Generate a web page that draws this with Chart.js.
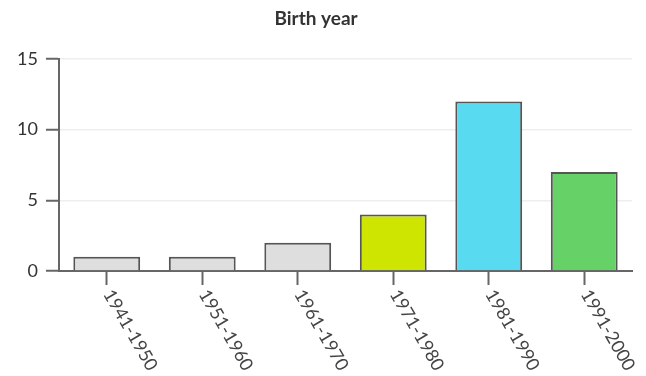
<!DOCTYPE html>
<html>
<head>
<meta charset="utf-8">
<script src="https://cdn.jsdelivr.net/npm/chart.js@4"></script>
<style>
  html, body { margin: 0; padding: 0; background: #fff; }
  #wrap { width: 646px; height: 376px; }
</style>
</head>
<body>
<div id="wrap"><canvas id="c" width="646" height="376"></canvas></div>
<script>
const categories = ['1941-1950', '1951-1960', '1961-1970', '1971-1980', '1981-1990', '1991-2000'];
const counts = [1, 1, 2, 4, 12, 7];
const barColors = ['#dedede', '#dedede', '#dedede', '#cde500', '#58dbf1', '#66d166'];
const yTicks = [0, 5, 10, 15];

const FONT = 'Lato, "Open Sans", sans-serif';

// Category labels hang down to the right of each tick, rotated clockwise.
const slantedLabels = {
  id: 'slantedLabels',
  afterDraw(chart) {
    const x = chart.scales.x;
    const ctx = chart.ctx;
    ctx.save();
    ctx.font = '18px ' + FONT;
    ctx.fillStyle = '#444';
    ctx.textAlign = 'left';
    ctx.textBaseline = 'middle';
    categories.forEach((label, i) => {
      const px = x.getPixelForTick(i);
      const py = x.top + 20;
      ctx.save();
      ctx.translate(px + 1, py);
      ctx.rotate(Math.PI / 3);
      ctx.fillText(label, 0, 0);
      ctx.restore();
    });
    ctx.restore();
  }
};

new Chart(document.getElementById('c'), {
  type: 'bar',
  data: {
    labels: categories,
    datasets: [{
      data: counts,
      backgroundColor: barColors,
      borderColor: '#555',
      borderWidth: 2,
      borderSkipped: 'bottom',
      categoryPercentage: 0.7,
      barPercentage: 1
    }]
  },
  options: {
    responsive: false,
    animation: false,
    layout: { padding: { left: 0, right: 14, top: 0, bottom: 0 } },
    plugins: {
      legend: { display: false },
      tooltip: { enabled: false },
      title: {
        display: true,
        text: 'Birth year',
        color: '#333',
        font: { family: FONT, size: 19, weight: 'bold', lineHeight: 1.2 },
        padding: { top: 7, bottom: 29.2 }
      }
    },
    scales: {
      x: {
        offset: true,
        grid: { display: true, drawOnChartArea: false, offset: false, tickLength: 14, tickColor: '#666', tickWidth: 2 },
        border: { display: true, color: '#666', width: 2 },
        ticks: { display: false },
        afterFit(s) { s.height = 105; }
      },
      y: {
        min: 0,
        max: 15,
        afterBuildTicks(s) { s.ticks = yTicks.map(v => ({ value: v })); },
        grid: { color: '#eeeeee', lineWidth: 1.5, tickColor: '#666', tickWidth: 2, tickLength: 13 },
        border: { display: true, color: '#666', width: 2 },
        ticks: {
          color: '#333',
          padding: 8,
          font: { family: FONT, size: 18 }
        },
        afterFit(s) { s.width = 59; }
      }
    }
  },
  plugins: [slantedLabels]
});
</script>
</body>
</html>
